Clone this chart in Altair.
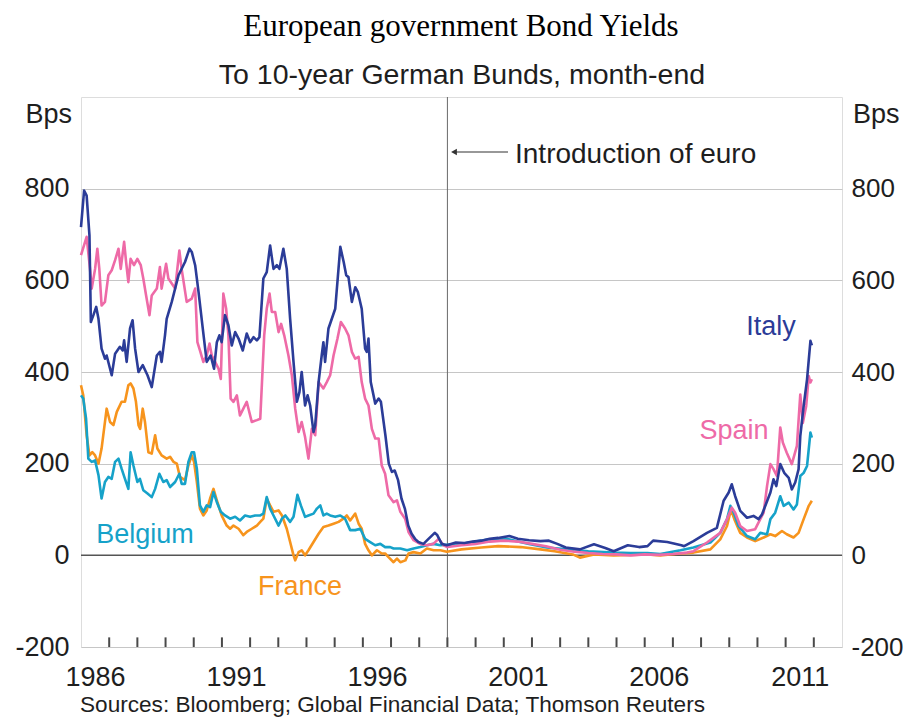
import altair as alt
import pandas as pd

# ---------------- data ----------------
italy_year = [1986.00, 1986.11, 1986.20, 1986.30, 1986.35, 1986.44, 1986.54, 1986.62, 1986.73, 1986.85,
              1986.91, 1987.09, 1987.21, 1987.38, 1987.48, 1987.53, 1987.62, 1987.74, 1987.83, 1987.92,
              1988.04, 1988.19, 1988.36, 1988.51, 1988.69, 1988.80, 1988.86, 1988.98, 1989.04, 1989.22,
              1989.46, 1989.69, 1989.85, 1989.93, 1990.05, 1990.17, 1990.32, 1990.46, 1990.60, 1990.72,
              1990.82, 1990.91, 1990.99, 1991.11, 1991.23, 1991.35, 1991.47, 1991.59, 1991.74, 1991.88,
              1992.00, 1992.12, 1992.24, 1992.33, 1992.47, 1992.59, 1992.71, 1992.83, 1992.95, 1993.04,
              1993.18, 1993.30, 1993.42, 1993.54, 1993.66, 1993.75, 1993.83, 1993.95, 1994.04, 1994.13,
              1994.25, 1994.31, 1994.43, 1994.54, 1994.60, 1994.66, 1994.78, 1994.86, 1995.02, 1995.20,
              1995.32, 1995.41, 1995.49, 1995.61, 1995.73, 1995.82, 1995.96, 1996.08, 1996.14, 1996.20,
              1996.28, 1996.44, 1996.56, 1996.64, 1996.80, 1996.92, 1997.03, 1997.13, 1997.25, 1997.37,
              1997.49, 1997.61, 1997.73, 1997.85, 1997.97, 1998.15, 1998.33, 1998.55, 1998.63, 1998.80,
              1998.98, 1999.30, 1999.60, 1999.90, 2000.20, 2000.50, 2000.80, 2001.20, 2001.50, 2001.90,
              2002.30, 2002.60, 2002.90, 2003.20, 2003.70, 2004.20, 2004.60, 2004.90, 2005.40, 2005.80,
              2006.10, 2006.30, 2006.80, 2007.30, 2007.40, 2007.73, 2008.21, 2008.56, 2008.80, 2008.98,
              2009.09, 2009.21, 2009.39, 2009.63, 2009.86, 2010.04, 2010.16, 2010.46, 2010.57, 2010.67,
              2010.81, 2010.95, 2011.11, 2011.22, 2011.34, 2011.46, 2011.52, 2011.64, 2011.76, 2011.88,
              2011.93]
italy_bps = [716, 796, 785, 698, 509, 524, 542, 516, 451, 429,
             436, 393, 440, 455, 447, 469, 422, 495, 513, 451,
             400, 415, 393, 367, 436, 444, 422, 480, 516, 553,
             611, 640, 669, 662, 633, 575, 495, 422, 436, 407,
             465, 480, 465, 524, 502, 458, 487, 473, 447, 484,
             465, 476, 469, 476, 604, 618, 676, 625, 633, 625,
             669, 625, 516, 422, 335, 356, 400, 327, 349, 327,
             269, 284, 378, 436, 465, 422, 495, 509, 538, 673,
             640, 611, 607, 553, 585, 575, 538, 451, 444, 473,
             378, 331, 342, 335, 262, 200, 182, 185, 164, 124,
             102, 65, 47, 36, 29, 25, 36, 49, 45, 25,
             22, 28, 27, 30, 32, 36, 38, 42, 36, 33,
             31, 32, 25, 17, 13, 24, 16, 9, 22, 18,
             20, 32, 29, 22, 20, 31, 49, 60, 119, 137,
             155, 129, 97, 82, 86, 79, 89, 137, 166, 151,
             199, 180, 169, 144, 159, 188, 260, 326, 384, 468,
             458]

spain_year = [1986.00, 1986.20, 1986.32, 1986.38, 1986.50, 1986.58, 1986.65, 1986.73, 1986.85, 1986.97,
              1987.09, 1987.21, 1987.33, 1987.41, 1987.53, 1987.60, 1987.68, 1987.76, 1987.88, 1988.00,
              1988.12, 1988.21, 1988.31, 1988.43, 1988.51, 1988.69, 1988.80, 1988.86, 1989.02, 1989.10,
              1989.34, 1989.49, 1989.57, 1989.75, 1989.93, 1990.05, 1990.13, 1990.22, 1990.34, 1990.46,
              1990.56, 1990.64, 1990.76, 1990.88, 1990.96, 1991.05, 1991.15, 1991.23, 1991.31, 1991.41,
              1991.53, 1991.64, 1991.76, 1991.88, 1992.06, 1992.24, 1992.36, 1992.50, 1992.59, 1992.69,
              1992.77, 1992.89, 1993.01, 1993.10, 1993.21, 1993.36, 1993.48, 1993.60, 1993.72, 1993.83,
              1993.95, 1994.07, 1994.19, 1994.31, 1994.43, 1994.60, 1994.72, 1994.84, 1994.96, 1995.10,
              1995.22, 1995.37, 1995.49, 1995.61, 1995.73, 1995.85, 1995.96, 1996.08, 1996.20, 1996.32,
              1996.44, 1996.56, 1996.67, 1996.79, 1996.91, 1997.09, 1997.21, 1997.33, 1997.50, 1997.62,
              1997.80, 1998.03, 1998.27, 1998.50, 1998.69, 1998.86, 1999.00, 1999.50, 2000.00, 2000.50,
              2001.00, 2001.50, 2002.00, 2002.50, 2003.00, 2003.50, 2004.00, 2004.50, 2005.00, 2005.50,
              2006.00, 2006.50, 2007.00, 2007.50, 2007.73, 2008.21, 2008.68, 2008.92, 2009.09, 2009.21,
              2009.39, 2009.63, 2009.92, 2010.10, 2010.22, 2010.34, 2010.46, 2010.57, 2010.69, 2010.81,
              2010.90, 2011.04, 2011.22, 2011.40, 2011.52, 2011.61, 2011.73, 2011.82, 2011.88, 2011.93]
spain_bps = [655, 695, 625, 582, 625, 669, 625, 545, 553, 611,
             622, 644, 669, 625, 684, 640, 596, 647, 633, 647,
             633, 604, 567, 524, 567, 582, 629, 582, 636, 604,
             582, 665, 625, 553, 560, 582, 465, 447, 422, 436,
             462, 436, 422, 407, 385, 571, 538, 480, 342, 335,
             349, 305, 320, 335, 291, 295, 298, 480, 538, 571,
             531, 531, 487, 505, 480, 436, 393, 320, 269, 291,
             258, 211, 276, 262, 378, 364, 378, 393, 436, 473,
             509, 495, 480, 444, 429, 433, 378, 342, 327, 276,
             255, 255, 196, 178, 131, 116, 120, 95, 80, 51,
             33, 25, 22, 25, 36, 22, 18, 22, 25, 30,
             32, 30, 25, 20, 12, 8, 5, 3, 2, 0,
             2, 1, 3, 6, 9, 28, 49, 79, 104, 93,
             64, 53, 57, 79, 93, 151, 199, 188, 173, 279,
             246, 224, 199, 239, 351, 289, 326, 391, 377, 384]

belgium_year = [1986.00, 1986.08, 1986.18, 1986.26, 1986.38, 1986.50, 1986.62, 1986.73, 1986.85, 1986.97,
                1987.09, 1987.21, 1987.33, 1987.44, 1987.56, 1987.68, 1987.76, 1987.86, 1988.00, 1988.09,
                1988.21, 1988.36, 1988.51, 1988.63, 1988.78, 1988.92, 1989.04, 1989.16, 1989.34, 1989.49,
                1989.57, 1989.69, 1989.81, 1989.93, 1990.01, 1990.11, 1990.22, 1990.34, 1990.46, 1990.58,
                1990.70, 1990.82, 1990.96, 1991.11, 1991.29, 1991.47, 1991.64, 1991.82, 1992.00, 1992.18,
                1992.36, 1992.47, 1992.59, 1992.71, 1992.83, 1993.01, 1993.13, 1993.25, 1993.42, 1993.54,
                1993.68, 1993.80, 1993.95, 1994.07, 1994.25, 1994.37, 1994.49, 1994.60, 1994.72, 1994.84,
                1995.02, 1995.20, 1995.37, 1995.55, 1995.73, 1995.91, 1996.08, 1996.26, 1996.44, 1996.62,
                1996.79, 1996.97, 1997.09, 1997.33, 1997.57, 1997.80, 1998.04, 1998.27, 1998.51, 1998.75,
                1998.98, 1999.56, 2000.00, 2000.50, 2001.10, 2001.50, 2001.94, 2002.53, 2003.24, 2004.00,
                2004.90, 2005.50, 2006.10, 2006.55, 2007.27, 2007.73, 2008.33, 2008.68, 2008.92, 2009.04,
                2009.16, 2009.33, 2009.63, 2009.92, 2010.10, 2010.34, 2010.46, 2010.63, 2010.81, 2010.93,
                2011.11, 2011.28, 2011.40, 2011.52, 2011.64, 2011.76, 2011.88, 2011.93]
belgium_bps = [349, 342, 298, 211, 204, 207, 175, 124, 160, 171,
               167, 204, 211, 189, 167, 145, 225, 196, 160, 167,
               142, 135, 127, 145, 178, 160, 164, 149, 160, 178,
               156, 156, 204, 225, 225, 189, 109, 95, 109, 105,
               138, 116, 95, 87, 80, 84, 76, 87, 84, 87,
               87, 91, 127, 102, 87, 65, 80, 87, 73, 84,
               132, 109, 84, 87, 91, 102, 109, 87, 91, 87,
               84, 87, 80, 55, 55, 58, 36, 29, 22, 25,
               18, 18, 15, 15, 11, 15, 18, 22, 25, 22,
               23, 25, 30, 35, 36, 30, 24, 17, 13, 9,
               6, 5, 5, 3, 11, 17, 28, 49, 79, 108,
               93, 64, 42, 35, 49, 46, 79, 93, 129, 108,
               115, 100, 111, 173, 180, 195, 268, 257]

france_year = [1986.00, 1986.08, 1986.20, 1986.30, 1986.40, 1986.50, 1986.62, 1986.73, 1986.91, 1987.03,
               1987.15, 1987.27, 1987.44, 1987.56, 1987.68, 1987.76, 1987.86, 1987.95, 1988.04, 1988.10,
               1988.19, 1988.27, 1988.39, 1988.51, 1988.63, 1988.71, 1988.86, 1989.04, 1989.16, 1989.28,
               1989.40, 1989.51, 1989.69, 1989.81, 1989.93, 1990.01, 1990.11, 1990.22, 1990.34, 1990.46,
               1990.58, 1990.70, 1990.82, 1990.99, 1991.17, 1991.29, 1991.41, 1991.59, 1991.76, 1991.88,
               1992.06, 1992.24, 1992.36, 1992.47, 1992.59, 1992.71, 1992.83, 1993.01, 1993.13, 1993.30,
               1993.42, 1993.54, 1993.60, 1993.72, 1993.83, 1993.95, 1994.07, 1994.25, 1994.43, 1994.60,
               1994.78, 1994.96, 1995.14, 1995.31, 1995.43, 1995.55, 1995.73, 1995.85, 1995.96, 1996.08,
               1996.20, 1996.32, 1996.50, 1996.67, 1996.79, 1996.91, 1997.09, 1997.21, 1997.33, 1997.51,
               1997.62, 1997.80, 1998.04, 1998.27, 1998.51, 1998.75, 1998.98, 1999.50, 2000.20, 2000.80,
               2001.60, 2002.30, 2002.80, 2003.45, 2003.70, 2004.20, 2004.90, 2006.10, 2006.55, 2007.27,
               2007.73, 2008.33, 2008.68, 2008.92, 2009.06, 2009.18, 2009.39, 2009.63, 2009.92, 2010.22,
               2010.46, 2010.63, 2010.87, 2011.04, 2011.28, 2011.46, 2011.64, 2011.82, 2011.93]
france_bps = [371, 349, 262, 218, 225, 218, 200, 233, 320, 291,
              284, 313, 335, 335, 371, 375, 364, 335, 284, 276,
              320, 291, 225, 222, 262, 233, 218, 211, 215, 204,
              200, 171, 164, 196, 218, 204, 160, 102, 87, 98,
              124, 145, 120, 87, 65, 58, 65, 58, 44, 51,
              58, 65, 73, 80, 124, 109, 95, 98, 87, 58,
              29, 0, -11, 7, 11, 0, 11, 29, 47, 62,
              65, 69, 73, 80, 87, 76, 91, 69, 58, 25,
              11, 0, 11, 4, 4, -4, -15, -7, -15, -11,
              4, 7, 4, 15, 11, 11, 8, 13, 17, 20,
              18, 13, 9, 2, -5, 2, 0, 2, 0, 4,
              6, 13, 35, 64, 100, 79, 49, 39, 31, 39,
              46, 42, 53, 46, 39, 49, 79, 108, 119]

series_names = ["France", "Belgium", "Spain", "Italy"]
series_colors = ["#f7941d", "#16a2c9", "#ee6aa7", "#2b3c98"]
y_ticks = [-200, 0, 200, 400, 600, 800]
x_ticks = list(range(1987, 2013))
label_years = [1986, 1991, 1996, 2001, 2006, 2011]
euro_year = [1999]

# ---------------- chart ----------------
FONT = "Liberation Sans"
TXT = "#1e1e1e"

xscale = alt.Scale(domain=[1986, 2013], nice=False, zero=False, padding=0)
yscale = alt.Scale(domain=[-200, 1000], nice=False, zero=False)


def make_xaxis():
    return alt.Axis(values=label_years, format="d", labelExpr="'' + datum.value",
                    labelOffset=14.1, ticks=False, tickSize=0,
                    domain=False, grid=False, labelFontSize=27, labelFont=FONT, labelColor=TXT,
                    labelPadding=17, labelFlush=False, labelOverlap=False, title=None)


yaxis_left = alt.Axis(values=y_ticks, orient="left", ticks=False, tickSize=0, domain=False,
                      labelExpr="'' + datum.value",
                      grid=True, gridColor="#c6c6c6", gridWidth=1, labelFontSize=27, labelFont=FONT,
                      labelColor=TXT, labelPadding=12, title=None)
yaxis_right = alt.Axis(values=y_ticks, orient="right", ticks=False, tickSize=0, domain=False,
                       labelExpr="'' + datum.value",
                       grid=False, labelFontSize=26, labelFont=FONT, labelColor=TXT,
                       labelPadding=9, title=None)

series_data = {
    "France": (france_year, france_bps),
    "Belgium": (belgium_year, belgium_bps),
    "Spain": (spain_year, spain_bps),
    "Italy": (italy_year, italy_bps),
}

# year tick marks rising from the bottom frame (short thin bars)
tick_df = pd.DataFrame({"year": x_ticks, "lo": [-200] * len(x_ticks), "hi": [-179] * len(x_ticks)})
year_ticks = alt.Chart(tick_df).mark_bar(color="#4a4a4a", width=2, opacity=1).encode(
    x=alt.X("year:Q", scale=xscale, axis=make_xaxis()),
    y=alt.Y("lo:Q", scale=yscale, axis=None),
    y2="hi:Q",
)

layers = []
for i, (name, col) in enumerate(zip(series_names, series_colors)):
    yr, bp = series_data[name]
    df = pd.DataFrame({"year": yr, "bps": bp})
    layers.append(
        alt.Chart(df).mark_line(color=col, strokeWidth=2.6, strokeJoin="round").encode(
            x=alt.X("year:Q", scale=xscale, axis=make_xaxis()),
            y=alt.Y("bps:Q", scale=yscale, axis=yaxis_left if i == 0 else None),
        )
    )

zero_line = alt.Chart(pd.DataFrame({"bps": [0]})).mark_rule(color="#555555", strokeWidth=1.5).encode(
    y=alt.Y("bps:Q", scale=yscale, axis=yaxis_right)
)
euro_line = alt.Chart(pd.DataFrame({"year": euro_year})).mark_rule(color="#6a6a6a", strokeWidth=1).encode(
    x=alt.X("year:Q", scale=xscale, axis=make_xaxis())
)


def text_layer(text, x, y, size, color=TXT, align="center", font=FONT):
    return alt.Chart(pd.DataFrame({"t": [text]})).mark_text(
        align=align, baseline="alphabetic", fontSize=size, font=font, color=color
    ).encode(x=alt.value(x), y=alt.value(y), text="t:N")


arrow_line = alt.Chart(pd.DataFrame({"a": [1]})).mark_rule(color="#333333", strokeWidth=1.2).encode(
    x=alt.value(373), x2=alt.value(427), y=alt.value(55)
)
arrow_head = alt.Chart(pd.DataFrame({"a": [1]})).mark_point(
    shape="triangle-left", filled=True, color="#333333", size=45, opacity=1
).encode(x=alt.value(373), y=alt.value(55))

annotations = [
    text_layer("European government Bond Yields", 380, -61.5, 31, color="#000000", font="Liberation Serif"),
    text_layer("To 10-year German Bunds, month-end", 381, -13, 28.5),
    text_layer("Bps", -9, 26, 27, align="right"),
    text_layer("Bps", 772, 26, 27, align="left"),
    text_layer("Introduction of euro", 434, 66, 28, align="left"),
    text_layer("Italy", 690, 238, 27, color=series_colors[3]),
    text_layer("Spain", 653, 342, 27, color=series_colors[2]),
    text_layer("Belgium", 64, 446, 27, color=series_colors[1]),
    text_layer("France", 219, 498, 27, color=series_colors[0]),
    text_layer("Sources: Bloomberg; Global Financial Data; Thomson Reuters", -1, 615, 22.6, align="left"),
]

chart = alt.layer(
    euro_line, zero_line, *layers, year_ticks, arrow_line, arrow_head, *annotations
).resolve_axis(y="independent").properties(
    width=761, height=550,
    padding={"left": 73, "top": 89, "right": 61, "bottom": 70},
    autosize=alt.AutoSizeParams(type="none"),
).configure_view(stroke="#7a7a7a", strokeWidth=1.5).configure(background="white")

chart.save("out.html", embed_options={"renderer": "svg", "actions": False})
